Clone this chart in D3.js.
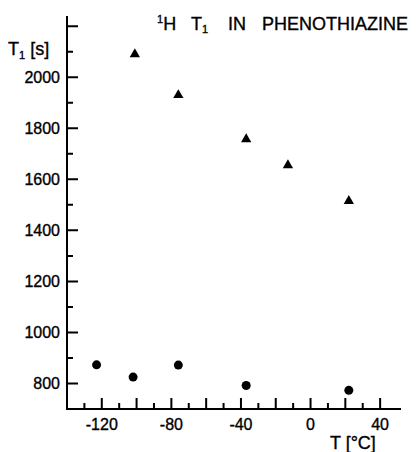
<!DOCTYPE html>
<html>
<head>
<meta charset="utf-8">
<script src="https://cdn.jsdelivr.net/npm/d3@7"></script>
<style>
  body { margin: 0; background: #fff; }
  svg text { font-family: "Liberation Sans", Arial, sans-serif; fill: #000; stroke: #000; stroke-width: 0.35; }
</style>
</head>
<body>
<div id="chart"></div>
<script>
// temperatures [°C] and T1 [s]
var triTemp = [-101, -76, -37, -13, 22];
var triT1 = [2090, 1930, 1757, 1655, 1515];
var dotTemp = [-123, -102, -76, -37, 22];
var dotT1 = [873, 825, 872, 792, 773];

var xTickLabels = [-120, -80, -40, 0, 40];
var yTickLabels = [800, 1000, 1200, 1400, 1600, 1800, 2000];
var xTicks = d3.range(-130, 41, 10);
var yTicks = d3.range(800, 2201, 100);

var width = 419, height = 452;

var svg = d3.select("#chart").append("svg")
    .attr("width", width)
    .attr("height", height);

var x = d3.scaleLinear().domain([-140, 52]).range([67, 401]);
var y = d3.scaleLinear().domain([700, 2240]).range([409, 16]);

var x0 = x(-140), y0 = y(700);

// ticks point inwards, long every 20 deg / 200 s
var tickPath = d3.path();
xTicks.forEach(function (d) {
    tickPath.moveTo(x(d), y0);
    tickPath.lineTo(x(d), y0 - (d % 20 === 0 ? 11 : 6));
});
yTicks.forEach(function (d) {
    tickPath.moveTo(x0, y(d));
    tickPath.lineTo(x0 + (d % 200 === 0 ? 11 : 6), y(d));
});
svg.append("path")
    .attr("d", tickPath.toString())
    .attr("fill", "none")
    .attr("stroke", "#000")
    .attr("stroke-width", 2);

// axis lines
svg.append("path")
    .attr("d", "M" + x(52) + "," + y0 + "H" + x0 + "V" + y(2240))
    .attr("fill", "none")
    .attr("stroke", "#000").attr("stroke-width", 2);

// tick labels
svg.selectAll(".xlab")
    .data(xTickLabels)
    .enter().append("text")
    .attr("class", "xlab")
    .attr("x", function (d) { return x(d); })
    .attr("y", 430)
    .attr("text-anchor", "middle")
    .attr("font-size", 16)
    .text(function (d) { return d; });

svg.selectAll(".ylab")
    .data(yTickLabels)
    .enter().append("text")
    .attr("class", "ylab")
    .attr("x", 60)
    .attr("y", function (d) { return y(d); })
    .attr("dy", "0.36em")
    .attr("text-anchor", "end")
    .attr("font-size", 16)
    .text(function (d) { return d; });

// axis titles
var yTitle = svg.append("text").attr("x", 8).attr("y", 55).attr("font-size", 18);
yTitle.append("tspan").text("T");
yTitle.append("tspan").attr("font-size", 11).attr("dy", 4).text("1");
yTitle.append("tspan").attr("dy", -4).text(" [s]");

svg.append("text")
    .attr("x", 330)
    .attr("y", 449)
    .attr("font-size", 18)
    .text("T [°C]");

// title
var title = svg.append("text").attr("x", 157).attr("y", 30).attr("font-size", 18);
title.append("tspan").attr("font-size", 11).attr("dy", -7).text("1");
title.append("tspan").attr("dy", 7).text("H");
title.append("tspan").attr("x", 191).text("T");
title.append("tspan").attr("font-size", 11).attr("dy", 3).text("1");
title.append("tspan").attr("dy", -3).attr("x", 228).text("IN");
title.append("tspan").attr("x", 262).text("PHENOTHIAZINE");

// points
var tri = d3.symbol().type(d3.symbolTriangle).size(46);

svg.selectAll(".tri")
    .data(triTemp)
    .enter().append("path")
    .attr("class", "tri")
    .attr("d", tri)
    .attr("transform", function (d, i) {
        return "translate(" + x(d) + "," + y(triT1[i]) + ")";
    })
    .attr("fill", "#000");

svg.selectAll(".dot")
    .data(dotTemp)
    .enter().append("circle")
    .attr("class", "dot")
    .attr("cx", function (d) { return x(d); })
    .attr("cy", function (d, i) { return y(dotT1[i]); })
    .attr("r", 4.5)
    .attr("fill", "#000");
</script>
</body>
</html>
